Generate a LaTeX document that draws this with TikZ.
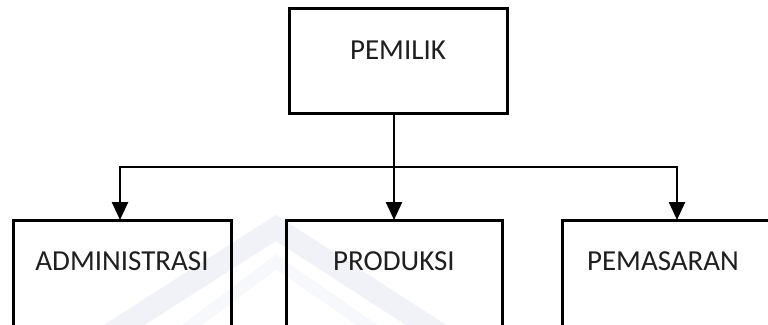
\documentclass[tikz,border=0pt]{standalone}
\usepackage{fontspec}
\setmainfont{Carlito}
\usetikzlibrary{arrows.meta}
\definecolor{wm}{RGB}{232,234,243}
\tikzset{
  orgbox/.style={draw=black, line width=3pt, rectangle, fill=none, outer sep=0pt, inner sep=0pt},
  lbl/.style={anchor=base, inner sep=0pt, font=\fontsize{29}{31}\selectfont, text=black!88},
  conn/.style={draw=black, line width=2.6pt},
  arr/.style={conn, -{Triangle[width=16pt,length=18pt]}},
  wmark/.style={draw=wm, line width=22pt, line cap=butt}
}
\begin{document}
\begin{tikzpicture}[x=1pt,y=-1pt]
\useasboundingbox (0,0) rectangle (768,324);
\clip (0,0) rectangle (768,324);
% faint watermark
\draw[wmark, opacity=0.6] (110,334) -- (276,228) -- (440,334);
\draw[wmark, opacity=0.35, line width=12pt] (180,334) -- (276,262) -- (380,334);
% boxes
\node[orgbox, minimum width=218pt, minimum height=105pt] (pemilik) at (398,60.5) {};
\node[orgbox, minimum width=218pt, minimum height=140pt] (admin) at (122,290) {};
\node[orgbox, minimum width=216pt, minimum height=140pt] (produksi) at (394,290) {};
\node[orgbox, minimum width=218pt, minimum height=140pt] (pemasaran) at (671,290) {};
% labels
\node[lbl] (tpemilik) at (398,59.3) {PEMILIK};
\node[lbl] (tadmin) at (122,270.7) {ADMINISTRASI};
\node[lbl] (tproduksi) at (394,270.7) {PRODUKSI};
\node[lbl] (tpemasaran) at (663,270.7) {PEMASARAN};
% connectors
\coordinate (stem) at (394,113);
\coordinate (j) at (394,167);
\coordinate (aL) at (120,220);
\coordinate (aM) at (394,220);
\coordinate (aR) at (677,220);
\draw[conn] (stem) -- (j);
\draw[arr] (j) -| (aL);
\draw[arr] (j) -- (aM);
\draw[arr] (j) -| (aR);
\end{tikzpicture}
\end{document}
